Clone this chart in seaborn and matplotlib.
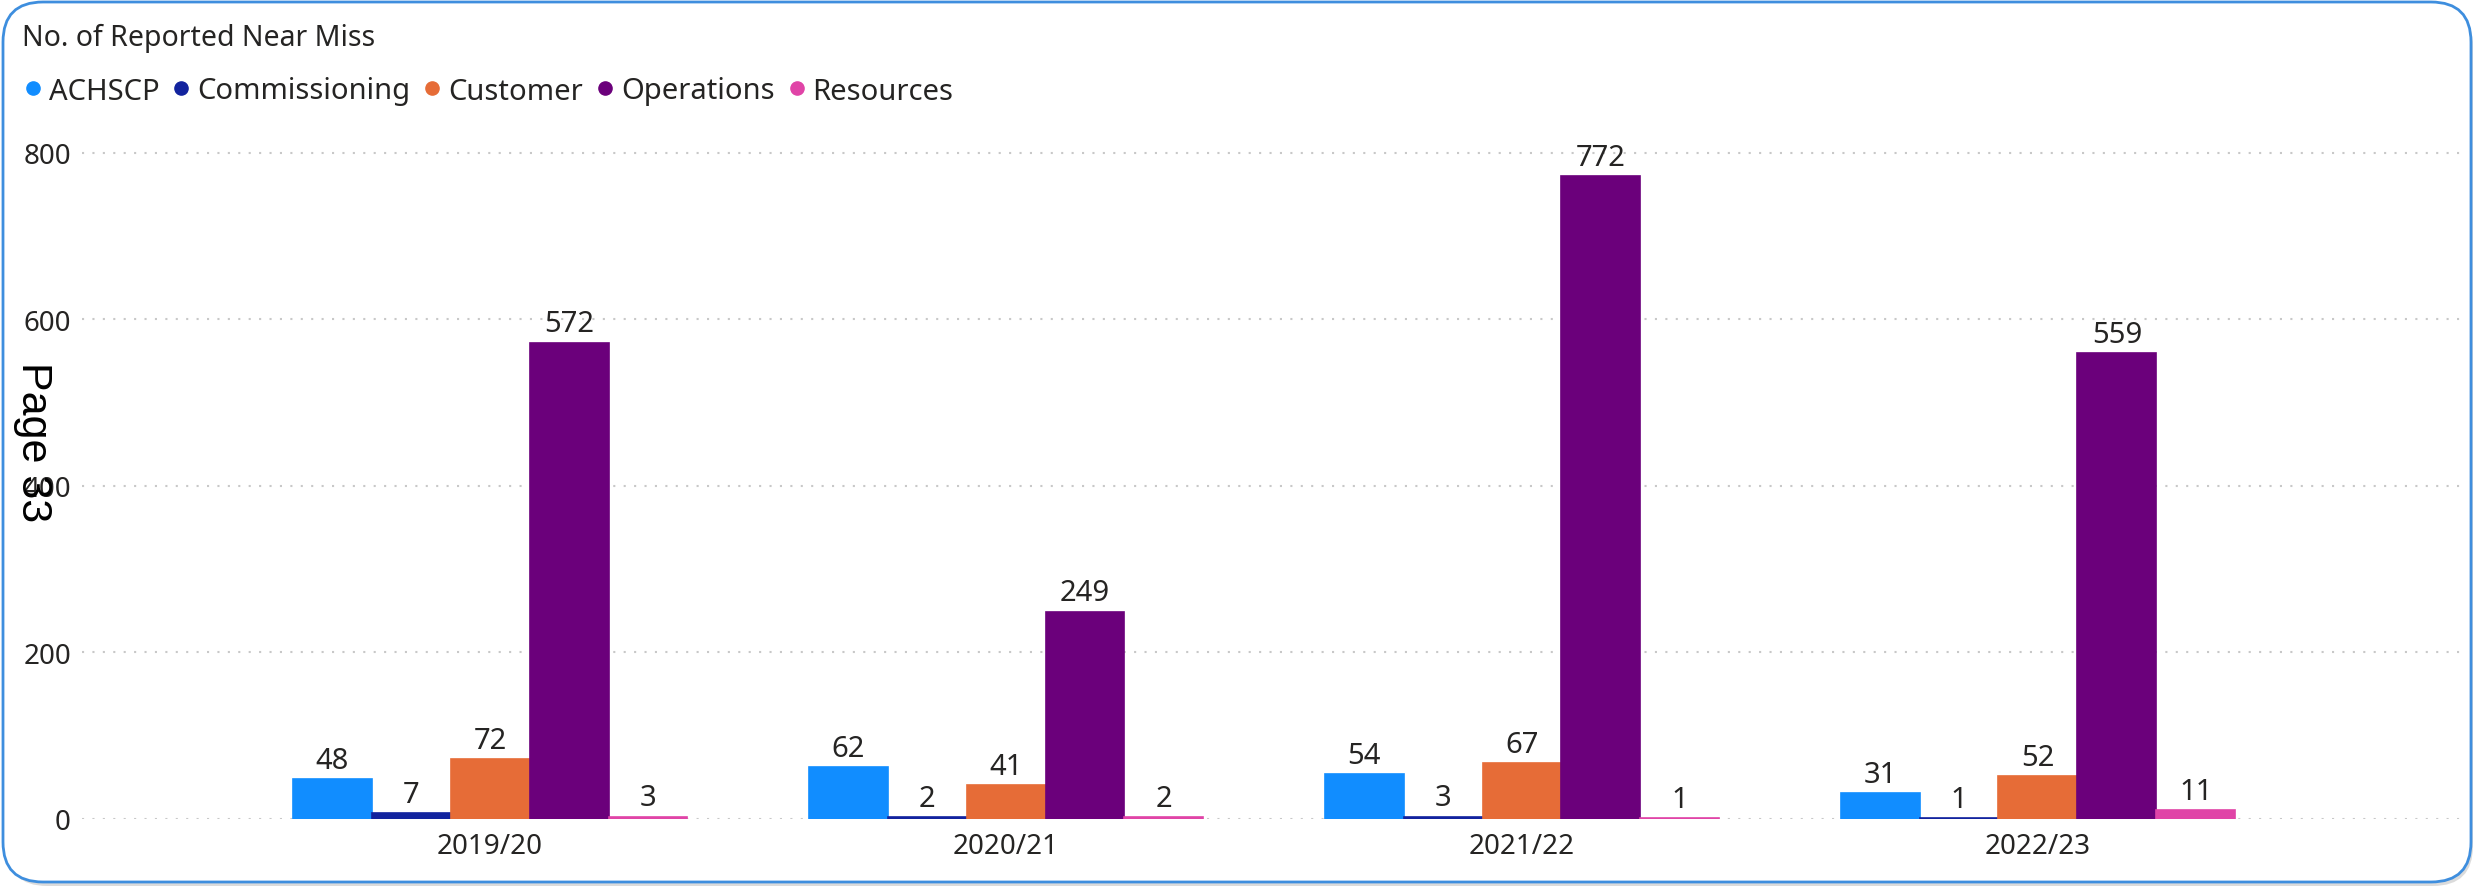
import matplotlib
matplotlib.use("Agg")
import matplotlib.pyplot as plt
from matplotlib.patches import FancyBboxPatch
from matplotlib.lines import Line2D
import seaborn as sns
import pandas as pd

# Reported near misses per financial year, by department
years = ["2019/20", "2020/21", "2021/22", "2022/23"]
departments = ["ACHSCP", "Commissioning", "Customer", "Operations", "Resources"]
achscp = [48, 62, 54, 31]
commissioning = [7, 2, 3, 1]
customer = [72, 41, 67, 52]
operations = [572, 249, 772, 559]
resources = [3, 2, 1, 11]
yticks = [0, 200, 400, 600, 800]
colors = ["#118DFF", "#12239E", "#E66C37", "#6B007B", "#E044A7"]

series = [achscp, commissioning, customer, operations, resources]
df = pd.DataFrame(
    [(y, d, v) for d, vals in zip(departments, series) for y, v in zip(years, vals)],
    columns=["Year", "Department", "Count"],
)

sns.set_theme(style="white")
plt.rcParams["font.family"] = ["Noto Sans", "DejaVu Sans"]
text_color = "#252423"

W, H = 2475, 887
fig = plt.figure(figsize=(W / 100, H / 100), dpi=100)
fig.patch.set_facecolor("white")

# Card background: soft shadow plus rounded blue outline
shadow = FancyBboxPatch((0.07, 0.0), 24.66, 8.80,
                        boxstyle="round,pad=0,rounding_size=0.40",
                        transform=fig.dpi_scale_trans, facecolor="#9a9a9a",
                        edgecolor="none", alpha=0.35, zorder=-20)
card = FancyBboxPatch((0.03, 0.04), 24.68, 8.80,
                      boxstyle="round,pad=0,rounding_size=0.40",
                      transform=fig.dpi_scale_trans, facecolor="white",
                      edgecolor="#3E8EDE", linewidth=2.0, zorder=-10)
fig.add_artist(shadow)
fig.add_artist(card)

ax = fig.add_axes([82 / W, 1 - 820 / H, (2460 - 82) / W, 708 / H])
ax.set_facecolor("none")

sns.barplot(data=df, x="Year", y="Count", hue="Department", hue_order=departments,
            order=years, palette=colors, saturation=1, width=0.765, dodge=True,
            legend=False, ax=ax, errorbar=None, linewidth=0)

# Outline each bar in its own colour so the smallest counts stay visible
for cont in ax.containers:
    for bar in cont:
        bar.set_edgecolor(bar.get_facecolor())
        bar.set_linewidth(1.2)
    ax.bar_label(cont, fmt="%d", padding=3, fontsize=21, color=text_color)

ax.set_xlim(-0.791, 3.818)
ax.set_ylim(0, 850)
ax.set_yticks(yticks)
ax.set_yticklabels([str(t) for t in yticks])
ax.set_xlabel("")
ax.set_ylabel("")
for s in ax.spines.values():
    s.set_visible(False)
ax.tick_params(axis="both", length=0, labelsize=20, colors=text_color)
ax.tick_params(axis="y", pad=8)
ax.tick_params(axis="x", pad=9)
ax.set_axisbelow(True)
ax.yaxis.grid(True, color="#C8C8C8", linestyle=(0, (1, 4)), linewidth=1.5)
ax.xaxis.grid(False)

# Title and legend
fig.text(22 / W, 1 - 38 / H, "No. of Reported Near Miss", fontsize=20.5,
         color=text_color, ha="left", va="center")
handles = [Line2D([], [], marker="o", linestyle="", markersize=9.5,
                  markerfacecolor=c, markeredgecolor=c) for c in colors]
fig.legend(handles, departments, loc="center left",
           bbox_to_anchor=(24 / W, 1 - 92 / H), ncol=5, frameon=False,
           fontsize=21, handlelength=0.6, handletextpad=0.25,
           columnspacing=0.45, borderpad=0, borderaxespad=0,
           labelcolor=text_color)

# Page stamp running down the left edge
fig.text(33 / W, 1 - 442 / H, "Page 33", rotation=270, fontsize=31,
         family=["Liberation Sans", "DejaVu Sans"], color="black",
         ha="center", va="center", zorder=50)

fig.savefig("out.png", dpi=100)
